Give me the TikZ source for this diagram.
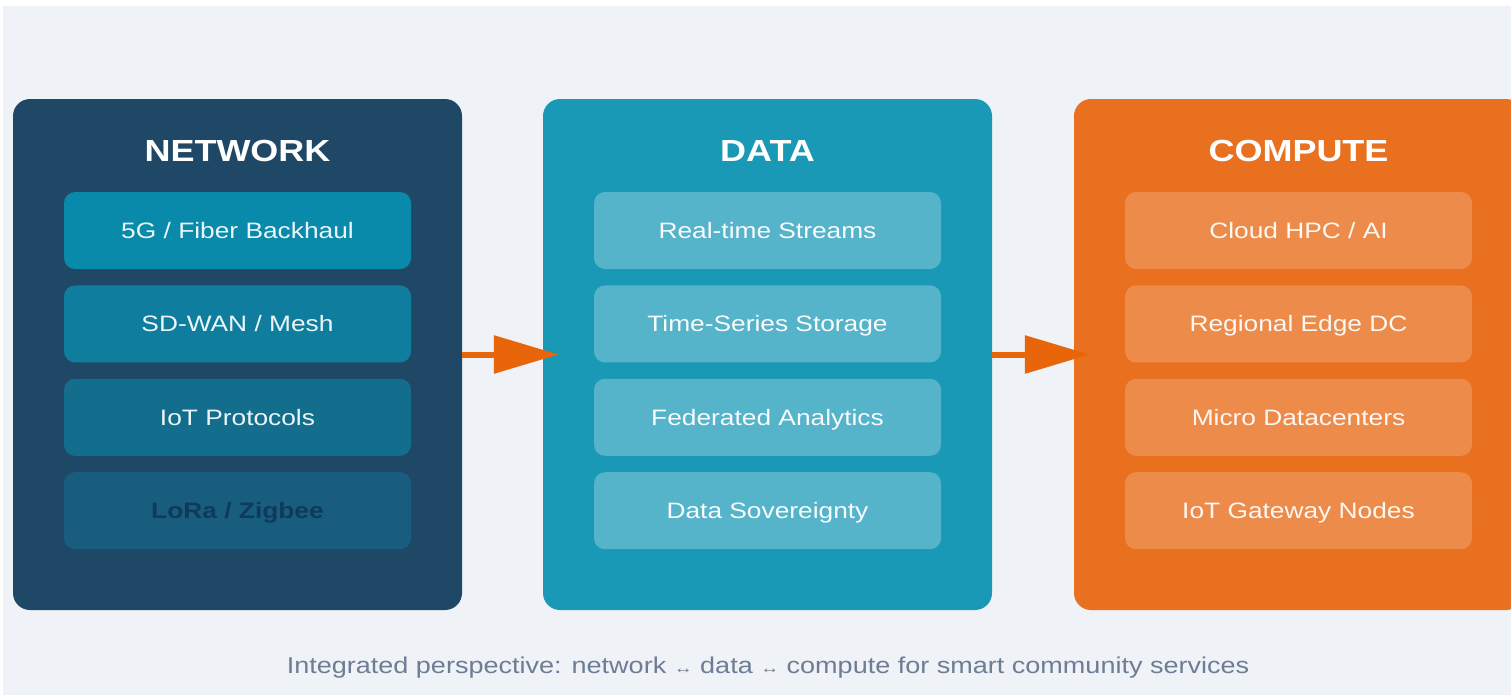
\documentclass[tikz,border=0pt]{standalone}
\usepackage{fontspec}
\setmainfont{Liberation Sans}
\newfontfamily\widefont[FakeStretch=1.18]{Liberation Sans}
\usetikzlibrary{positioning,calc,arrows.meta}

\definecolor{bgcol}{HTML}{EFF2F7}
\definecolor{netcol}{HTML}{1F4866}
\definecolor{netA}{HTML}{0A8AAA}
\definecolor{netB}{HTML}{0F7E9E}
\definecolor{netC}{HTML}{136D8C}
\definecolor{netD}{HTML}{185D7E}
\definecolor{datacol}{HTML}{1A99B6}
\definecolor{dataitem}{HTML}{55B3CA}
\definecolor{cmpcol}{HTML}{E8701F}
\definecolor{cmpitem}{HTML}{EC8B4A}
\definecolor{arrowcol}{HTML}{E8650A}
\definecolor{capcol}{HTML}{6E7D93}
\definecolor{loracol}{HTML}{0F3A5C}

\newcommand{\smallarrow}{{\fontsize{16}{18}\selectfont ↔}}

\begin{document}
\begin{tikzpicture}[x=1pt, y=-1pt,
                panel/.style={rectangle, rounded corners=17pt, minimum width=449pt, minimum height=511pt, inner sep=0pt},
                title/.style={text=white, text height=21pt, text depth=0pt, font=\widefont\bfseries\fontsize{30.5}{36}\selectfont},
                item/.style={rectangle, rounded corners=11pt, minimum width=347pt, minimum height=77pt, inner sep=0pt, text height=16pt, text depth=0pt, font=\widefont\fontsize{22.3}{26}\selectfont},
                netitem/.style={item, text=white!92!netA},
                dataitem/.style={item, fill=dataitem, text=white!96!dataitem},
                cmpitem/.style={item, fill=cmpitem, text=white!94!cmpitem},
                flow/.style={draw=arrowcol, line width=6pt, -{Triangle[length=65pt,width=37pt]}},
            ]

            \useasboundingbox (0, 0) rectangle (1511, 697);
            \clip (0, 0) rectangle (1511, 697);
            \fill[white] (0, 0) rectangle (1511, 697);
            \fill[bgcol] (3, 6) rectangle (1511, 695);

            % panels
            \node[panel, fill=netcol] (net) at (237.5, 354.5) {};
            \node[panel, fill=datacol] (data) at (767.5, 354.5) {};
            \node[panel, fill=cmpcol] (cmp) at (1298.5, 354.5) {};

            % flows
            \draw[flow] (net.east) -- ([xshift=16pt]data.west);
            \draw[flow] (data.east) -- ([xshift=16pt]cmp.west);

            % network
            \node[title] (netT) at ($ (net.north) + (0, 52) $) {NETWORK};
            \node[netitem, fill=netA, below=93pt of net.north] (net1) {5G / Fiber Backhaul};
            \node[netitem, fill=netB, below=16pt of net1] (net2) {SD-WAN / Mesh};
            \node[netitem, fill=netC, below=16pt of net2] (net3) {IoT Protocols};
            \node[netitem, fill=netD, text=loracol, below=16pt of net3] (net4) {\bfseries LoRa / Zigbee};

            % data
            \node[title] (dataT) at ($ (data.north) + (0, 52) $) {DATA};
            \node[dataitem, below=93pt of data.north] (data1) {Real-time Streams};
            \node[dataitem, below=16pt of data1] (data2) {Time-Series Storage};
            \node[dataitem, below=16pt of data2] (data3) {Federated Analytics};
            \node[dataitem, below=16pt of data3] (data4) {Data Sovereignty};

            % compute
            \node[title] (cmpT) at ($ (cmp.north) + (0, 52) $) {COMPUTE};
            \node[cmpitem, below=93pt of cmp.north] (cmp1) {Cloud HPC / AI};
            \node[cmpitem, below=16pt of cmp1] (cmp2) {Regional Edge DC};
            \node[cmpitem, below=16pt of cmp2] (cmp3) {Micro Datacenters};
            \node[cmpitem, below=16pt of cmp3] (cmp4) {IoT Gateway Nodes};

            % caption
            \node[text=capcol, text height=16pt, text depth=0pt, font=\widefont\fontsize{22.9}{27}\selectfont] (caption) at (768, 665)
                {Integrated perspective: network \smallarrow{} data \smallarrow{} compute for smart community services};
        \end{tikzpicture}
\end{document}
